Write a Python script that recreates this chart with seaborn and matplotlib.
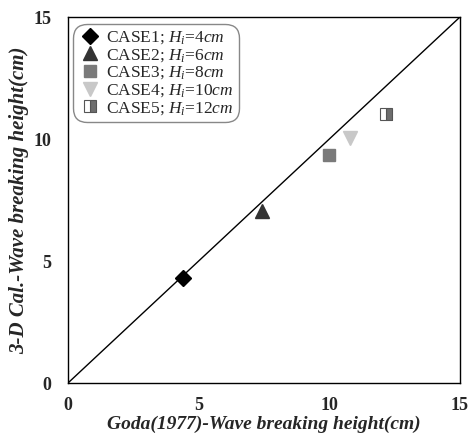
import matplotlib
matplotlib.use("Agg")
import matplotlib.pyplot as plt
import seaborn as sns
import pandas as pd

sns.set_theme(style="white")
plt.rcParams['font.family'] = ['Liberation Serif', 'DejaVu Serif']
plt.rcParams['mathtext.fontset'] = 'custom'
plt.rcParams['mathtext.rm'] = 'Liberation Serif'
plt.rcParams['mathtext.it'] = 'Liberation Serif:italic'

cases = ["CASE1", "CASE2", "CASE3", "CASE4", "CASE5"]
wave_h = [4, 6, 8, 10, 12]
goda = [4.40, 7.42, 9.99, 10.79, 12.17]
calc = [4.30, 7.05, 9.34, 10.04, 11.02]
diag = [0, 15]

markers = ["D", "^", "s", "v", "s"]
colors = ["#000000", "#333333", "#7a7a7a", "#c8c8c8", "#6e6e6e"]
sizes = [8, 10, 9, 10, 8.5]

fig = plt.figure(figsize=(4.7, 4.33), dpi=100)
ax = fig.add_axes([68/470, 50/433, 392/470, 366/433])

sns.lineplot(x=diag, y=diag, color="black", lw=1.0, ax=ax)

for i, c in enumerate(cases):
    lab = c + "; $\\mathit{H_i}$=" + str(wave_h[i]) + "$\\mathit{cm}$"
    if i < 4:
        ax.plot([goda[i]], [calc[i]], linestyle="none", marker=markers[i],
                markersize=sizes[i], color=colors[i], markeredgecolor=colors[i],
                label=lab, zorder=3)
    else:
        ax.plot([goda[i]], [calc[i]], linestyle="none", marker=markers[i],
                markersize=sizes[i], fillstyle="right", color=colors[i],
                markerfacecoloralt="white", markeredgecolor="#555555",
                markeredgewidth=0.8, label=lab, zorder=3)

ax.set_xlim(0, 15)
ax.set_ylim(0, 15)
ax.set_xticks([0, 5, 10, 15])
ax.set_yticks([0, 5, 10, 15])
ax.tick_params(axis="x", length=0, labelsize=13, pad=10)
ax.tick_params(axis="y", length=0, labelsize=13, pad=12)
for t in ax.get_xticklabels() + ax.get_yticklabels():
    t.set_fontweight("bold")
for s in ax.spines.values():
    s.set_color("black")
    s.set_linewidth(1.0)

ax.set_xlabel("Goda(1977)-Wave breaking height(cm)", fontsize=14,
              fontweight="bold", fontstyle="italic", labelpad=1)
ax.set_ylabel("3-D Cal.-Wave breaking height(cm)", fontsize=15,
              fontweight="bold", fontstyle="italic", labelpad=3)

leg = ax.legend(loc="upper left", bbox_to_anchor=(0.0, 0.995), fontsize=12.5,
                frameon=True, fancybox=True, edgecolor="#888888",
                handletextpad=0.3, labelspacing=0.05, borderpad=0.3,
                handlelength=1.3, borderaxespad=0.3)
leg.get_frame().set_linewidth(1.0)
leg.get_frame().set_alpha(1)
leg.get_frame().set_boxstyle("round", pad=0.0, rounding_size=0.8)

fig.savefig("out.png", dpi=100)
